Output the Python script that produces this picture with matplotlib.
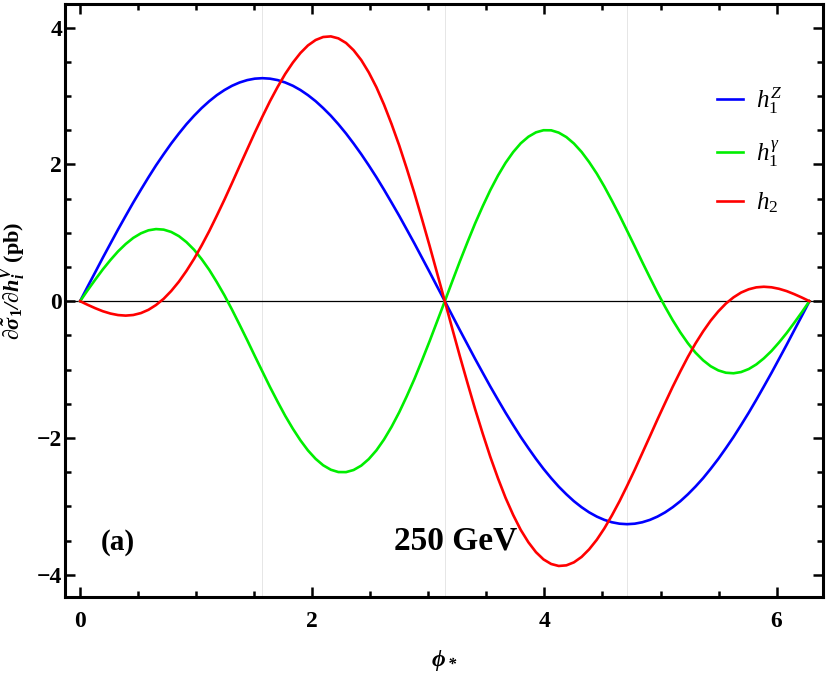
import matplotlib
matplotlib.use("Agg")
import matplotlib.pyplot as plt
import numpy as np

# phi_* sample points (rad) and curves
phi = [0.000, 0.065, 0.131, 0.196, 0.262, 0.327, 0.393, 0.458, 0.524, 0.589,
       0.654, 0.720, 0.785, 0.851, 0.916, 0.982, 1.047, 1.113, 1.178, 1.244,
       1.309, 1.374, 1.440, 1.505, 1.571, 1.636, 1.702, 1.767, 1.833, 1.898,
       1.963, 2.029, 2.094, 2.160, 2.225, 2.291, 2.356, 2.422, 2.487, 2.553,
       2.618, 2.683, 2.749, 2.814, 2.880, 2.945, 3.011, 3.076, 3.142, 3.207,
       3.272, 3.338, 3.403, 3.469, 3.534, 3.600, 3.665, 3.731, 3.796, 3.862,
       3.927, 3.992, 4.058, 4.123, 4.189, 4.254, 4.320, 4.385, 4.451, 4.516,
       4.581, 4.647, 4.712, 4.778, 4.843, 4.909, 4.974, 5.040, 5.105, 5.171,
       5.236, 5.301, 5.367, 5.432, 5.498, 5.563, 5.629, 5.694, 5.760, 5.825,
       5.890, 5.956, 6.021, 6.087, 6.152, 6.218, 6.283]

h1Z = [0.000, 0.213, 0.425, 0.636, 0.844, 1.048, 1.248, 1.442, 1.630, 1.811,
       1.985, 2.149, 2.305, 2.451, 2.587, 2.711, 2.823, 2.924, 3.012, 3.087,
       3.149, 3.197, 3.232, 3.253, 3.260, 3.253, 3.232, 3.197, 3.149, 3.087,
       3.012, 2.924, 2.823, 2.711, 2.587, 2.451, 2.305, 2.149, 1.985, 1.811,
       1.630, 1.442, 1.248, 1.048, 0.844, 0.636, 0.425, 0.213, 0.000, -0.213,
       -0.425, -0.636, -0.844, -1.048, -1.248, -1.442, -1.630, -1.811, -1.985, -2.149,
       -2.305, -2.451, -2.587, -2.711, -2.823, -2.924, -3.012, -3.087, -3.149, -3.197,
       -3.232, -3.253, -3.260, -3.253, -3.232, -3.197, -3.149, -3.087, -3.012, -2.924,
       -2.823, -2.711, -2.587, -2.451, -2.305, -2.149, -1.985, -1.811, -1.630, -1.442,
       -1.248, -1.048, -0.844, -0.636, -0.425, -0.213, 0.000]

h1A = [0.000, 0.160, 0.316, 0.465, 0.603, 0.728, 0.836, 0.925, 0.992, 1.036,
       1.054, 1.046, 1.012, 0.951, 0.864, 0.752, 0.615, 0.457, 0.278, 0.084,
       -0.125, -0.344, -0.571, -0.801, -1.030, -1.255, -1.471, -1.676, -1.865, -2.034,
       -2.182, -2.305, -2.399, -2.464, -2.498, -2.499, -2.468, -2.404, -2.308, -2.180,
       -2.022, -1.837, -1.624, -1.390, -1.137, -0.867, -0.584, -0.294, 0.000, 0.294,
       0.584, 0.867, 1.137, 1.390, 1.624, 1.837, 2.022, 2.180, 2.308, 2.404,
       2.468, 2.499, 2.498, 2.464, 2.399, 2.305, 2.182, 2.034, 1.865, 1.676,
       1.471, 1.255, 1.030, 0.801, 0.571, 0.344, 0.125, -0.084, -0.278, -0.457,
       -0.615, -0.752, -0.864, -0.951, -1.012, -1.046, -1.054, -1.036, -0.992, -0.925,
       -0.836, -0.728, -0.603, -0.465, -0.316, -0.160, 0.000]

h2 = [0.000, -0.053, -0.103, -0.147, -0.181, -0.203, -0.211, -0.202, -0.174, -0.126,
      -0.056, 0.035, 0.149, 0.285, 0.442, 0.619, 0.814, 1.026, 1.251, 1.486,
      1.728, 1.974, 2.221, 2.464, 2.700, 2.924, 3.133, 3.322, 3.488, 3.628,
      3.739, 3.818, 3.862, 3.871, 3.842, 3.775, 3.669, 3.525, 3.344, 3.126,
      2.874, 2.590, 2.277, 1.939, 1.579, 1.201, 0.808, 0.407, 0.000, -0.407,
      -0.808, -1.201, -1.579, -1.939, -2.277, -2.590, -2.874, -3.126, -3.344, -3.525,
      -3.669, -3.775, -3.842, -3.871, -3.862, -3.818, -3.739, -3.628, -3.488, -3.322,
      -3.133, -2.924, -2.700, -2.464, -2.221, -1.974, -1.728, -1.486, -1.251, -1.026,
      -0.814, -0.619, -0.442, -0.285, -0.149, -0.035, 0.056, 0.126, 0.174, 0.202,
      0.211, 0.203, 0.181, 0.147, 0.103, 0.053, 0.000]

labels = [r'$h_1^Z$', r'$h_1^\gamma$', r'$h_2$']
colors = ['#0000ff', '#00ee00', '#ff0000']

plt.rcParams['font.family'] = ['Liberation Serif', 'DejaVu Serif']
plt.rcParams['font.weight'] = 'bold'
plt.rcParams['mathtext.fontset'] = 'custom'
plt.rcParams['mathtext.rm'] = 'Liberation Serif:normal'
plt.rcParams['mathtext.it'] = 'Liberation Serif:italic:normal'
plt.rcParams['mathtext.bf'] = 'Liberation Serif:bold'
plt.rcParams['mathtext.bfit'] = 'Liberation Serif:italic:bold'

fig = plt.figure(figsize=(8.28, 6.73), dpi=100)
ax = fig.add_axes([0.0785, 0.1134, 0.9155, 0.8802])

for g in [np.pi / 2, np.pi, 3 * np.pi / 2]:
    ax.axvline(g, color='#e6e6e6', lw=0.7, zorder=0)
ax.axhline(0, color='black', lw=0.9, zorder=1)

for y, lab, c in zip([h1Z, h1A, h2], labels, colors):
    ax.plot(phi, y, color=c, lw=1.9, label=lab, solid_joinstyle='round')

ax.set_xlim(-0.13, 6.40)
ax.set_ylim(-4.32, 4.34)
ax.set_xticks([0, 2, 4, 6])
ax.set_yticks([-4, -2, 0, 2, 4])
ax.set_xticks(np.arange(0, 6.5, 0.5), minor=True)
ax.set_yticks(np.arange(-4, 4.5, 0.5), minor=True)
ax.set_yticklabels(['\u22124', '\u22122', '0', '2', '4'])
ax.tick_params(which='both', direction='in', top=True, right=True,
               labeltop=False, labelright=False, labelsize=17)
ax.tick_params(which='major', length=7, width=1.8)
ax.tick_params(which='minor', length=4.5, width=1.8)
ax.tick_params(axis='x', pad=10)
ax.tick_params(axis='y', pad=2)
for s in ax.spines.values():
    s.set_linewidth(2.2)

ax.set_xlabel(r'$\mathbfit{\phi_*}$', fontsize=17, labelpad=12)
ax.set_ylabel(r'$\mathbfit{\partial\tilde{\sigma}_{\mathbf{1}}/\partial h_i^V}$ (pb)',
              fontsize=16, fontweight='bold')
ax.yaxis.set_label_coords(-0.049, 0.533)

ax.text(0.325, -3.63, '(a)', fontsize=21, ha='center', va='baseline')
ax.text(3.235, -3.63, '250 GeV', fontsize=24, ha='center', va='baseline')

ax.legend(loc='upper right', bbox_to_anchor=(0.975, 0.902), frameon=False,
          fontsize=18, handlelength=1.05, handletextpad=0.5, labelspacing=0.88)

fig.savefig('out.png', dpi=100)
